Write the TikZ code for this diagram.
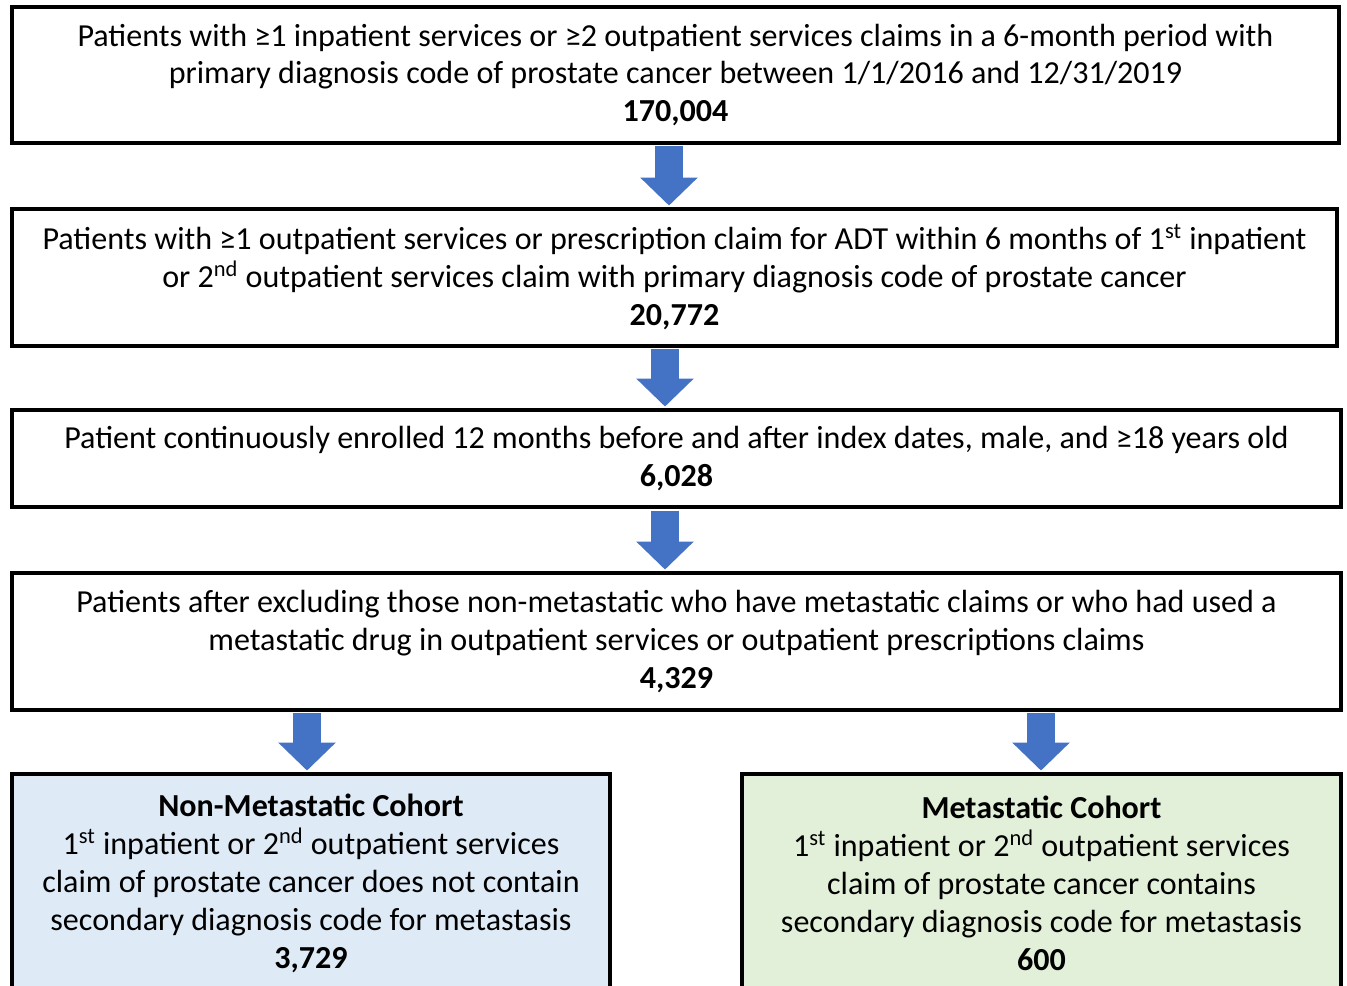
\documentclass[tikz,border=0pt]{standalone}
\usepackage{fontspec}
\setmainfont{Carlito}
\usetikzlibrary{arrows.meta}

\definecolor{flowBlue}{HTML}{4472C4}
\definecolor{nonmetFill}{HTML}{DEEBF7}
\definecolor{metFill}{HTML}{E2F0D9}

\begin{document}
\begin{tikzpicture}[x=0.02cm, y=-0.02cm,
    font=\fontsize{18.25pt}{21.6pt}\selectfont,
    every node/.style={inner sep=2pt},
    stepbox/.style={draw=black, line width=0.07cm, fill=white, align=center},
    flowarrow/.style={flowBlue, line width=0.56cm,
      -{Triangle[width=1.12cm, length=0.56cm]},
      shorten <=0.035cm, shorten >=0.035cm}]
    % Frame: 1347 x 985 units, origin top left
    \useasboundingbox (0,0) rectangle (1347,985);

    % Selection steps (top to bottom)
    \node[stepbox, minimum width=26.54cm, minimum height=2.72cm] (b1) at (675.5,75)
      {Patients with ≥1 inpatient services or ≥2 outpatient services claims in a 6-month period with\\
       primary diagnosis code of prostate cancer between 1/1/2016 and 12/31/2019\\
       \textbf{170,004}};
    \node[stepbox, minimum width=26.50cm, minimum height=2.74cm] (b2) at (674.5,277.5)
      {Patients with ≥1 outpatient services or prescription claim for ADT within 6 months of 1\textsuperscript{st} inpatient\\
       or 2\textsuperscript{nd} outpatient services claim with primary diagnosis code of prostate cancer\\
       \textbf{20,772}};
    \node[stepbox, minimum width=26.58cm, minimum height=1.94cm] (b3) at (676.5,458.5)
      {Patient continuously enrolled 12 months before and after index dates, male, and ≥18 years old\\
       \textbf{6,028}};
    \node[stepbox, minimum width=26.58cm, minimum height=2.74cm] (b4) at (676.5,641.5)
      {Patients after excluding those non-metastatic who have metastatic claims or who had used a\\
       metastatic drug in outpatient services or outpatient prescriptions claims\\
       \textbf{4,329}};

    % Cohorts (run off the bottom edge)
    \node[stepbox, fill=nonmetFill, minimum width=11.96cm, minimum height=4.36cm] (b5) at (311,883)
      {\textbf{Non-Metastatic Cohort}\\
       1\textsuperscript{st} inpatient or 2\textsuperscript{nd} outpatient services\\
       claim of prostate cancer does not contain\\
       secondary diagnosis code for metastasis\\
       \textbf{3,729}};
    \node[stepbox, fill=metFill, minimum width=11.98cm, minimum height=4.36cm] (b6) at (1041.5,883)
      {\textbf{Metastatic Cohort}\\
       1\textsuperscript{st} inpatient or 2\textsuperscript{nd} outpatient services\\
       claim of prostate cancer contains\\
       secondary diagnosis code for metastasis\\
       \textbf{600}};

    % Arrow columns
    \coordinate (c1) at (669,0);
    \coordinate (c2) at (665,0);
    \coordinate (c3) at (307,0);
    \coordinate (c4) at (1041,0);

    \draw[flowarrow] (b1.south -| c1) -- (b2.north -| c1);
    \draw[flowarrow] (b2.south -| c2) -- (b3.north -| c2);
    \draw[flowarrow] (b3.south -| c2) -- (b4.north -| c2);
    \draw[flowarrow] (b4.south -| c3) -- (b5.north -| c3);
    \draw[flowarrow] (b4.south -| c4) -- (b6.north -| c4);
  \end{tikzpicture}
\end{document}
